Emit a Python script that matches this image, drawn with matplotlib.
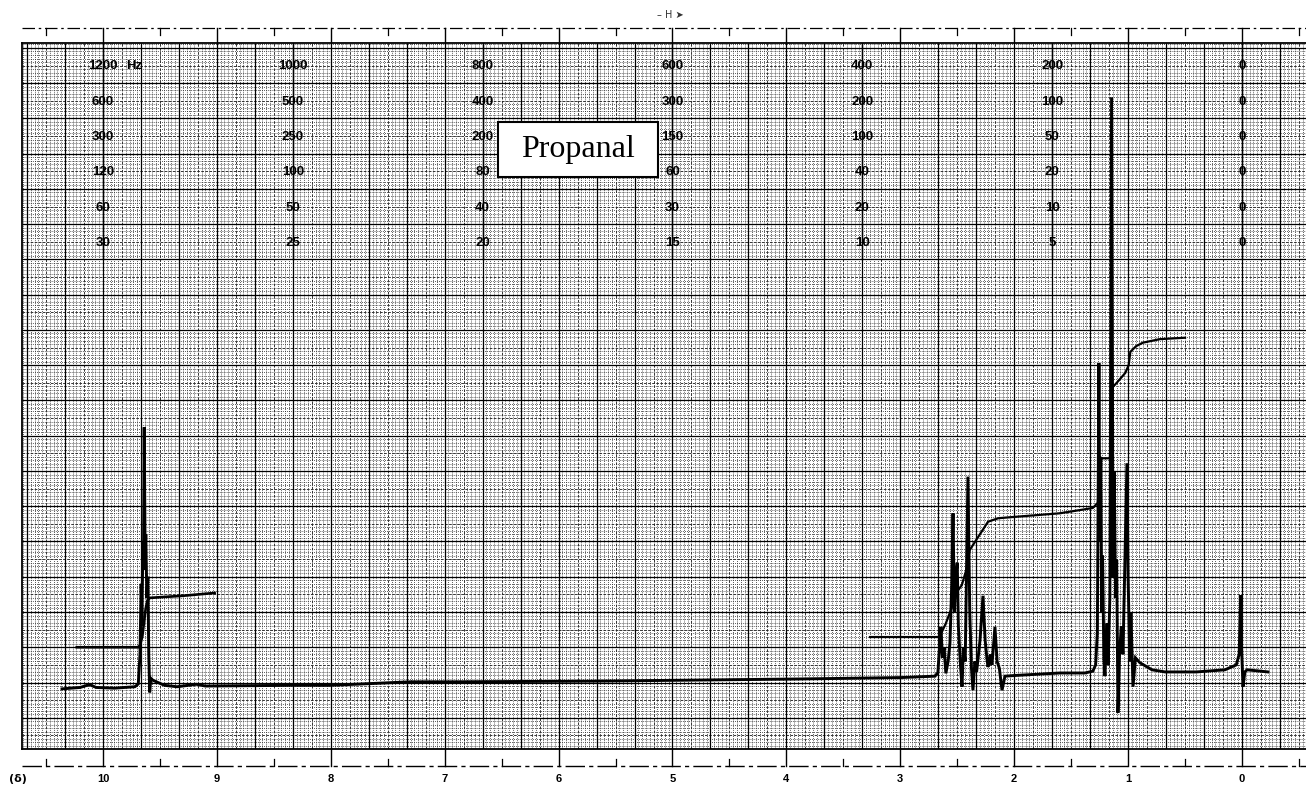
import numpy as np
import matplotlib
matplotlib.use("Agg")
import matplotlib.pyplot as plt
from matplotlib.patches import Rectangle
from matplotlib.collections import LineCollection

# ---------------- data ----------------
title = "Propanal"

# main spectrum trace: chemical shift (ppm) and pen height (chart %)
spec_ppm = [10.36, 10.20, 10.12, 10.06, 9.90, 9.72, 9.69, 9.675, 9.665, 9.658, 9.650,
            9.645, 9.638, 9.630, 9.624, 9.615, 9.606, 9.598, 9.590, 9.580, 9.560,
            9.46, 9.35, 9.18, 9.10, 8.35, 8.00, 7.30, 6.90, 5.64, 3.88, 3.00,
            2.695, 2.670, 2.655, 2.643, 2.630, 2.615, 2.600, 2.580, 2.564, 2.548,
            2.537, 2.525, 2.515, 2.500, 2.490, 2.470, 2.458, 2.445, 2.430, 2.406,
            2.390, 2.375, 2.362, 2.345, 2.330, 2.300, 2.274, 2.255, 2.240, 2.230,
            2.210, 2.195, 2.169, 2.150, 2.130, 2.107, 2.081, 1.990, 1.600, 1.380,
            1.310, 1.285, 1.270, 1.256, 1.248, 1.240, 1.232, 1.224, 1.212, 1.203,
            1.185, 1.175, 1.160, 1.145, 1.132, 1.122, 1.110, 1.100, 1.089, 1.075,
            1.060, 1.045, 1.010, 1.000, 0.985, 0.975, 0.957, 0.935, 0.896, 0.79,
            0.676, 0.40, 0.15, 0.05, 0.025, 0.012, 0.004, -0.009, -0.025, -0.044,
            -0.228]
spec_int = [9.1, 9.3, 9.7, 9.3, 9.2, 9.4, 9.8, 14.0, 24.0, 18.0, 30.0,
            26.0, 46.2, 28.0, 31.0, 22.0, 25.0, 14.0, 8.6, 10.6, 10.3,
            9.6, 9.4, 9.75, 9.5, 9.6, 9.6, 10.1, 10.1, 10.2, 10.5, 10.7,
            10.9, 11.4, 15.0, 17.9, 13.5, 15.0, 11.3, 13.0, 15.6, 24.0,
            34.0, 20.0, 24.5, 27.0, 18.0, 12.0, 9.4, 15.0, 13.0, 39.2,
            20.0, 12.0, 8.9, 13.0, 11.5, 16.0, 22.3, 16.0, 13.5, 12.2,
            14.0, 12.5, 17.9, 13.0, 12.0, 8.9, 10.9, 11.0, 11.35, 11.35,
            11.6, 12.5, 17.0, 55.3, 30.0, 42.0, 20.0, 28.0, 13.0, 10.9,
            18.4, 12.5, 22.0, 93.0, 25.0, 40.0, 22.0, 27.4, 5.7, 14.0,
            18.0, 14.0, 41.1, 25.0, 13.0, 19.9, 9.4, 13.5, 12.8, 11.8,
            11.5, 11.5, 11.8, 12.5, 14.0, 22.4, 15.0, 9.4, 11.5, 11.8,
            11.5]

# integral trace over the aldehyde proton
int1_ppm = [10.23, 9.69, 9.675, 9.655, 9.64, 9.625, 9.61, 9.59, 9.30, 9.02]
int1_val = [15.0, 15.0, 15.3, 16.5, 18.5, 20.5, 21.6, 22.0, 22.3, 22.7]

# integral trace over CH2 + CH3
int2_ppm = [3.266, 2.66, 2.64, 2.60, 2.55, 2.52, 2.46, 2.42, 2.39, 2.35, 2.29,
            2.23, 2.14, 1.99, 1.60, 1.31, 1.265, 1.255, 1.245, 1.16, 1.145,
            1.135, 1.10, 1.025, 0.995, 0.98, 0.93, 0.87, 0.72, 0.50]
int2_val = [16.45, 16.45, 17.0, 18.4, 20.5, 22.5, 23.8, 26.0, 28.8, 29.8, 31.3,
            32.8, 33.3, 33.5, 34.0, 34.75, 35.5, 39.0, 41.8, 41.8, 47.0,
            51.9, 52.5, 53.9, 55.0, 56.9, 57.7, 58.2, 58.7, 58.9]

# delta scale
delta_ticks = [10, 9, 8, 7, 6, 5, 4, 3, 2, 1, 0]

# sweep-width (Hz) columns printed on the chart paper
hz_col_ppm = [10.0, 25 / 3, 20 / 3, 5.0, 10 / 3, 5 / 3, 0.0]
hz_labels = [
    ["1200", "600", "300", "120", "60", "30"],
    ["1000", "500", "250", "100", "50", "25"],
    ["800", "400", "200", "80", "40", "20"],
    ["600", "300", "150", "60", "30", "15"],
    ["400", "200", "100", "40", "20", "10"],
    ["200", "100", "50", "20", "10", "5"],
    ["0", "0", "0", "0", "0", "0"],
]
hz_unit = "Hz"
hz_row_y = [97.4, 92.3, 87.4, 82.4, 77.3, 72.3]

# ---------------- figure ----------------
W, H = 1306, 790
fig = plt.figure(figsize=(W / 100, H / 100), dpi=100)
fig.patch.set_facecolor("white")
ax = fig.add_axes([22 / W, 1 - 749 / H, 1 - 22 / W, (749 - 43) / H])
XL, XR = 10.711, -0.562
YB, YT = 0.57, 100.7
ax.set_xlim(XL, XR)
ax.set_ylim(YB, YT)
ax.set_xticks([])
ax.set_yticks([])
ax.spines["right"].set_visible(False)
for s in ["left", "top", "bottom"]:
    ax.spines[s].set_linewidth(1.3)

# chart paper grid (2 Hz fine, 10 Hz medium, 20 Hz major at 60 MHz)
fine_v, med_v, maj_v = [], [], []
for k in np.arange(-17, 323):
    x = k / 30
    seg = [(x, YB), (x, YT)]
    if k % 10 == 0:
        maj_v.append(seg)
    elif k % 5 == 0:
        med_v.append(seg)
    else:
        fine_v.append(seg)
fine_h, med_h, maj_h = [], [], []
for k in range(0, 202):
    y = k / 2
    seg = [(XL, y), (XR, y)]
    if k % 10 == 0:
        maj_h.append(seg)
    elif k % 5 == 0:
        med_h.append(seg)
    else:
        fine_h.append(seg)

ax.add_collection(LineCollection(fine_v + fine_h, colors="0.15", linewidths=0.6,
                                 linestyles=(0, (1.0, 1.5)), zorder=0))
ax.add_collection(LineCollection(med_v + med_h, colors="0.15", linewidths=0.65,
                                 linestyles=(0, (3, 1.5)), zorder=0.5))
ax.add_collection(LineCollection(maj_v + maj_h, colors="black", linewidths=0.9,
                                 zorder=0.6))

# Hz columns
for ci, (cx, labs) in enumerate(zip(hz_col_ppm, hz_labels)):
    ax.plot([cx, cx], [YT, 70.0], color="black", lw=1.0, zorder=1)
    for ri, (lab, yy) in enumerate(zip(labs, hz_row_y)):
        ax.text(cx, yy, lab, ha="center", va="center", fontsize=9.5,
                family="Liberation Sans", weight="bold", color="black", zorder=2)
        if ci == 0 and ri == 0:
            ax.text(cx - 0.2, yy, hz_unit, ha="left", va="center", fontsize=9.5,
                    family="Liberation Sans", weight="bold", color="black", zorder=2)

# spectrum and integrals
ax.plot(spec_ppm, spec_int, color="black", lw=2.1, solid_joinstyle="miter", zorder=3)
ax.plot(int1_ppm, int1_val, color="black", lw=1.9, zorder=3)
ax.plot(int2_ppm, int2_val, color="black", lw=1.6, zorder=3)

# title box
bx0, bx1, by0, by1 = 5.127, 6.53, 81.7, 89.5
ax.add_patch(Rectangle((bx0, by0), bx1 - bx0, by1 - by0, facecolor="white",
                       edgecolor="black", lw=1.5, zorder=4))
ax.text((bx0 + bx1) / 2, (by0 + by1) / 2, title, ha="center", va="center", fontsize=23,
        family="Liberation Serif", color="black", zorder=5)

# bottom delta scale
y_line_b = -1.84
ax.plot([XL, XR], [y_line_b, y_line_b], color="black", lw=1.0,
        linestyle=(0, (14, 3, 3, 3)), clip_on=False)
for t in delta_ticks:
    ax.plot([t, t], [YB, y_line_b], color="black", lw=1.0, clip_on=False)
    ax.text(t, -3.75, str(t), ha="center", va="center", fontsize=8,
            family="Liberation Sans", weight="bold", clip_on=False)
for t in np.arange(-0.5, 10.6, 1.0):
    ax.plot([t, t], [-0.9, y_line_b], color="black", lw=0.9, clip_on=False)
ax.text(10.75, -3.75, "(δ)", ha="center", va="center", fontsize=8,
        family="DejaVu Sans", weight="bold", clip_on=False)

# top scale
y_line_t = 102.8
ax.plot([XL, XR], [y_line_t, y_line_t], color="black", lw=0.9,
        linestyle=(0, (10, 3, 2, 3)), clip_on=False)
for t in delta_ticks:
    ax.plot([t, t], [YT, y_line_t], color="black", lw=1.0, clip_on=False)
for t in np.arange(-0.5, 10.6, 1.0):
    ax.plot([t, t], [101.9, y_line_t], color="black", lw=0.9, clip_on=False)
ax.text(5.02, 104.7, "– H ➤", ha="center", va="center", fontsize=7,
        family="DejaVu Sans", color="0.2", clip_on=False)

fig.savefig("out.png", dpi=100, facecolor="white")
